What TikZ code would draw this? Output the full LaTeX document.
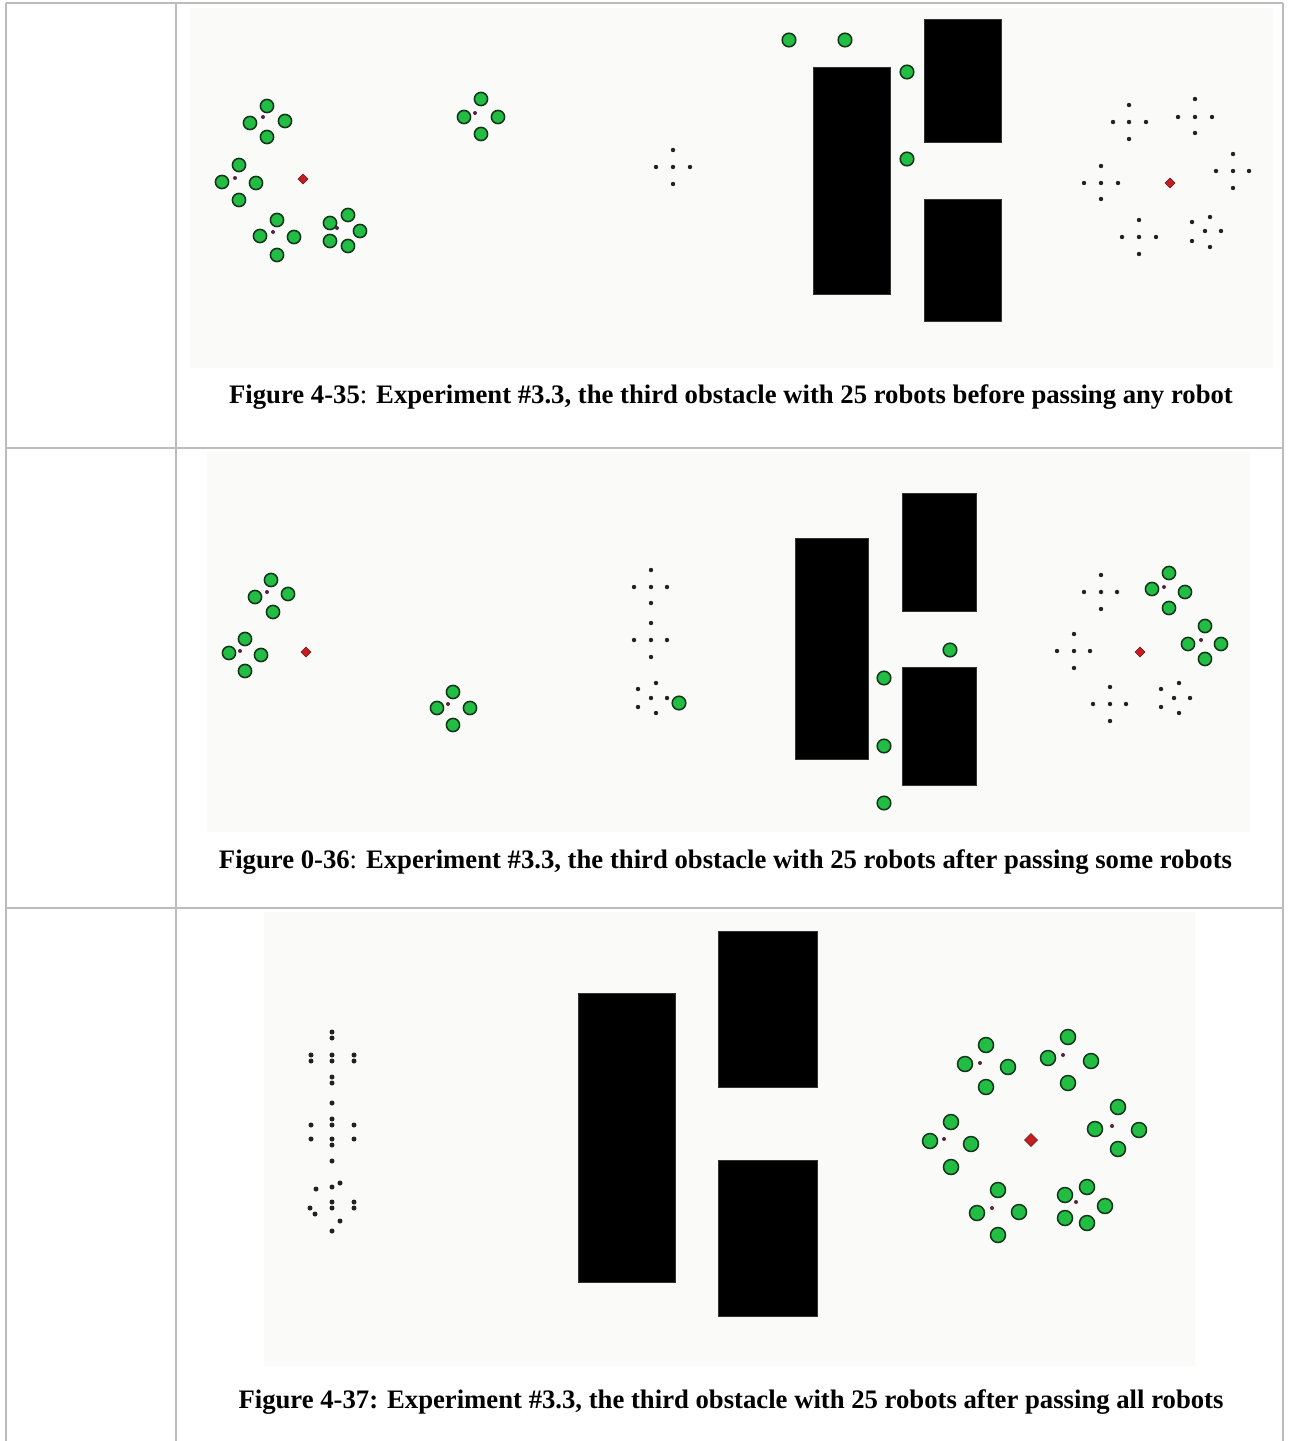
\documentclass[tikz,border=0pt]{standalone}
\usepackage{fontspec}
\setmainfont{Liberation Serif}
\definecolor{gridgray}{RGB}{188,188,188}
\definecolor{panelbg}{RGB}{250,250,249}
\definecolor{robotgreen}{RGB}{34,190,68}
\definecolor{robotedge}{RGB}{20,52,26}
\definecolor{goalred}{RGB}{196,30,36}
\definecolor{goaledge}{RGB}{110,20,20}
\definecolor{centerdot}{RGB}{92,32,62}
\definecolor{dotgray}{RGB}{34,34,34}
\tikzset{
  gridline/.style={draw=gridgray, line width=1.6pt},
  panel/.style={fill=panelbg},
  obstacle/.style={fill=black, draw=black!80, line width=0.6pt},
  robotbody/.style={fill=robotgreen, draw=robotedge, line width=1.5pt},
  goal/.style={fill=goalred, draw=goaledge, line width=0.6pt},
  smalldot/.style={fill=dotgray},
  cdot/.style={fill=centerdot},
  caption/.style={font=\fontsize{26.7}{30}\selectfont, anchor=center, inner sep=0pt}
}
\newcommand{\mkrobot}[3]{\filldraw[robotbody] (#1,#2) circle (#3);}
\newcommand{\mkdot}[2]{\fill[smalldot] (#1,#2) circle (2.2);}
\newcommand{\mkbdot}[2]{\fill[smalldot] (#1,#2) circle (2.5);}
\newcommand{\mkctr}[2]{\fill[cdot] (#1,#2) circle (2);}
\newcommand{\mkdbl}[2]{\fill[smalldot] (#1,#2-3) circle (2.5) (#1,#2+3) circle (2.5);}
\newcommand{\mkgoal}[3]{\filldraw[goal] (#1-#3,#2) -- (#1,#2-#3) -- (#1+#3,#2) -- (#1,#2+#3) -- cycle;}
\begin{document}
\begin{tikzpicture}[x=1pt,y=-1pt]
\useasboundingbox (0,0) rectangle (1289,1441);
\fill[white] (0,0) rectangle (1289,1441);

% ---------- table grid ----------
\draw[gridline] (6,3) -- (1283,3);
\draw[gridline] (6,448) -- (1283,448);
\draw[gridline] (6,908) -- (1283,908);
\draw[gridline] (6,3) -- (6,1441);
\draw[gridline] (176,3) -- (176,1441);
\draw[gridline] (1283,3) -- (1283,1441);

% ---------- panel backgrounds ----------
\fill[panel] (190,8) rectangle (1273,368);
\fill[panel] (207,452) rectangle (1250,832);
\fill[panel] (264,912) rectangle (1195,1366);

% =========== PANEL 1 ===========
\fill[obstacle] (813,67) rectangle (890,294);
\fill[obstacle] (924,19) rectangle (1001,142);
\fill[obstacle] (924,199) rectangle (1001,321);
% cluster A
\mkrobot{267}{106}{6.6}\mkrobot{250}{123}{6.6}\mkrobot{285}{121}{6.6}\mkrobot{267}{137}{6.6}\mkctr{263}{117}
% cluster B
\mkrobot{239}{165}{6.6}\mkrobot{222}{182}{6.6}\mkrobot{256}{183}{6.6}\mkrobot{239}{200}{6.6}\mkctr{235}{178}
\mkgoal{303}{179}{5}
% cluster C
\mkrobot{277}{220}{6.6}\mkrobot{260}{236}{6.6}\mkrobot{294}{237}{6.6}\mkrobot{277}{255}{6.6}\mkctr{273}{232}
% cluster D
\mkctr{337}{228}
\mkrobot{330}{223}{6.6}\mkrobot{348}{215}{6.6}\mkrobot{360}{231}{6.6}\mkrobot{330}{241}{6.6}\mkrobot{348}{246}{6.6}
% cluster E
\mkrobot{481}{99}{6.6}\mkrobot{464}{117}{6.6}\mkrobot{498}{117}{6.6}\mkrobot{481}{134}{6.6}\mkctr{475}{113}
% single robots near obstacle
\mkrobot{789}{40}{6.8}\mkrobot{845}{40}{6.8}\mkrobot{907}{72}{6.8}\mkrobot{907}{159}{6.8}
% dot formations
\mkdot{673}{150}\mkdot{656}{167}\mkdot{673}{167}\mkdot{690}{167}\mkdot{673}{184}
\mkdot{1129}{105}\mkdot{1113}{122}\mkdot{1129}{122}\mkdot{1146}{122}\mkdot{1129}{139}
\mkdot{1195}{99}\mkdot{1178}{117}\mkdot{1195}{117}\mkdot{1212}{117}\mkdot{1195}{133}
\mkdot{1101}{166}\mkdot{1084}{183}\mkdot{1101}{183}\mkdot{1118}{183}\mkdot{1101}{199}
\mkdot{1233}{154}\mkdot{1216}{171}\mkdot{1233}{171}\mkdot{1249}{171}\mkdot{1233}{188}
\mkdot{1139}{220}\mkdot{1122}{237}\mkdot{1139}{237}\mkdot{1156}{237}\mkdot{1139}{254}
\mkdot{1210}{217}\mkdot{1192}{222}\mkdot{1205}{231}\mkdot{1221}{231}\mkdot{1192}{241}\mkdot{1210}{247}
\mkgoal{1170}{183}{5}

\node[caption] (cap1) at (731,397) {\textbf{Figure 4-35}: \textbf{Experiment \#3.3, the third obstacle with 25 robots before passing any robot}};

% =========== PANEL 2 ===========
\fill[obstacle] (795,538) rectangle (868,759);
\fill[obstacle] (902,493) rectangle (976,611);
\fill[obstacle] (902,667) rectangle (976,785);
\mkrobot{271}{580}{6.6}\mkrobot{255}{597}{6.6}\mkrobot{288}{594}{6.6}\mkrobot{273}{612}{6.6}\mkctr{267}{592}
\mkrobot{245}{639}{6.6}\mkrobot{229}{653}{6.6}\mkrobot{261}{655}{6.6}\mkrobot{245}{671}{6.6}\mkctr{240}{651}
\mkgoal{306}{652}{5}
\mkrobot{453}{692}{6.6}\mkrobot{437}{708}{6.6}\mkrobot{470}{708}{6.6}\mkrobot{453}{725}{6.6}\mkctr{448}{704}
% dot column
\mkdot{651}{570}\mkdot{634}{587}\mkdot{651}{587}\mkdot{667}{587}\mkdot{651}{603}
\mkdot{651}{623}\mkdot{634}{640}\mkdot{651}{640}\mkdot{667}{640}\mkdot{651}{657}
\mkdot{656}{683}\mkdot{638}{689}\mkdot{651}{698}\mkdot{667}{698}\mkdot{638}{707}\mkdot{656}{713}
\mkrobot{679}{703}{6.8}
% robots near obstacle
\mkrobot{950}{650}{6.8}\mkrobot{884}{678}{6.8}\mkrobot{884}{746}{6.8}\mkrobot{884}{803}{6.8}
% right side
\mkdot{1101}{575}\mkdot{1084}{592}\mkdot{1101}{592}\mkdot{1117}{592}\mkdot{1101}{609}
\mkrobot{1169}{573}{6.6}\mkrobot{1152}{589}{6.6}\mkrobot{1185}{592}{6.6}\mkrobot{1169}{608}{6.6}\mkctr{1164}{587}
\mkrobot{1205}{626}{6.6}\mkrobot{1188}{644}{6.6}\mkrobot{1221}{644}{6.6}\mkrobot{1205}{659}{6.6}\mkctr{1201}{640}
\mkdot{1074}{634}\mkdot{1057}{651}\mkdot{1074}{651}\mkdot{1090}{651}\mkdot{1074}{668}
\mkgoal{1140}{652}{5}
\mkdot{1110}{687}\mkdot{1093}{704}\mkdot{1110}{704}\mkdot{1126}{704}\mkdot{1110}{721}
\mkdot{1179}{683}\mkdot{1161}{689}\mkdot{1174}{698}\mkdot{1190}{698}\mkdot{1161}{707}\mkdot{1179}{713}

\node[caption] (cap2) at (725.5,862) {\textbf{Figure 0-36}: \textbf{Experiment \#3.3, the third obstacle with 25 robots after passing some robots}};

% =========== PANEL 3 ===========
\fill[obstacle] (578,993) rectangle (675,1282);
\fill[obstacle] (718,931) rectangle (817,1087);
\fill[obstacle] (718,1160) rectangle (817,1316);
% dot column (passed formations)
\mkdbl{332}{1035}
\mkdbl{311}{1058}\mkdbl{332}{1058}\mkdbl{354}{1058}
\mkdbl{332}{1080}
\mkbdot{332}{1103}
\mkbdot{311}{1125}\mkbdot{311}{1139}
\mkdbl{332}{1122}\mkdbl{332}{1142}
\mkbdot{354}{1125}\mkbdot{354}{1139}
\mkbdot{332}{1161}
\mkbdot{316}{1189}\mkbdot{332}{1187}\mkbdot{340}{1183}
\mkbdot{310}{1208}\mkbdot{315}{1214}
\mkdbl{332}{1205}\mkdbl{354}{1205}
\mkbdot{340}{1221}\mkbdot{332}{1231}
% green formations around goal
\mkrobot{986}{1045}{7.5}\mkrobot{965}{1064}{7.5}\mkrobot{1008}{1067}{7.5}\mkrobot{986}{1087}{7.5}\mkctr{980}{1063}
\mkrobot{1068}{1037}{7.5}\mkrobot{1048}{1058}{7.5}\mkrobot{1091}{1061}{7.5}\mkrobot{1068}{1083}{7.5}\mkctr{1063}{1055}
\mkrobot{951}{1122}{7.5}\mkrobot{930}{1141}{7.5}\mkrobot{971}{1144}{7.5}\mkrobot{951}{1167}{7.5}\mkctr{944}{1139}
\mkrobot{1118}{1107}{7.5}\mkrobot{1095}{1129}{7.5}\mkrobot{1139}{1130}{7.5}\mkrobot{1118}{1149}{7.5}\mkctr{1112}{1126}
\mkgoal{1031}{1140}{6.5}
\mkrobot{998}{1190}{7.5}\mkrobot{977}{1213}{7.5}\mkrobot{1019}{1212}{7.5}\mkrobot{998}{1235}{7.5}\mkctr{992}{1208}
\mkctr{1076}{1202}
\mkrobot{1087}{1187}{7.5}\mkrobot{1065}{1195}{7.5}\mkrobot{1105}{1206}{7.5}\mkrobot{1065}{1218}{7.5}\mkrobot{1087}{1223}{7.5}

\node[caption] (cap3) at (731,1402) {\textbf{Figure 4-37: Experiment \#3.3, the third obstacle with 25 robots after passing all robots}};
\end{tikzpicture}
\end{document}
